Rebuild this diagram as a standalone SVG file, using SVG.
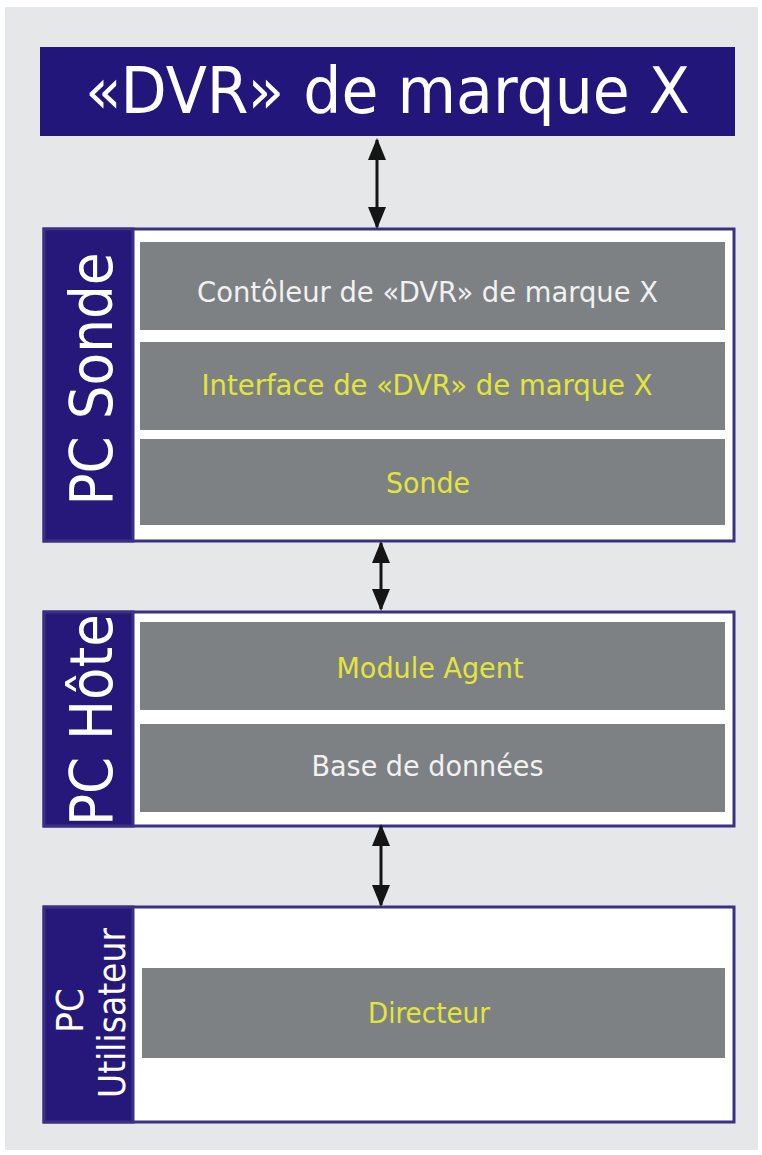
<svg xmlns="http://www.w3.org/2000/svg" width="762" height="1155" viewBox="0 0 762 1155">
  <style>
    .t { font-family: 'DejaVu Sans Condensed', 'DejaVu Sans', sans-serif; text-anchor: middle; }
    .frame { fill: #ffffff; stroke: #3b3182; stroke-width: 3; }
    .side { fill: #25187a; stroke: #3b3182; stroke-width: 3; }
    .cell { fill: #7e8184; }
    .w { fill: #f1f1f1; font-size: 29px; }
    .y { fill: #e2e63a; font-size: 29px; }
    .lab { fill: #ffffff; }
    .conn { stroke: #151515; stroke-width: 3; fill: none; marker-start: url(#ah); marker-end: url(#ah); }
  </style>
  <defs>
    <marker id="ah" markerUnits="userSpaceOnUse" markerWidth="22" markerHeight="20" refX="20" refY="10" orient="auto-start-reverse" viewBox="0 0 22 20">
      <path d="M0,1 L22,10 L0,19 Z" fill="#151515"/>
    </marker>
  </defs>

  <rect x="5" y="7" width="753" height="1143" fill="#e6e7e8"/>

  <g id="dvr">
    <rect x="40" y="47" width="695" height="89" fill="#23167a"/>
    <text class="t lab" x="387.5" y="113" font-size="64" textLength="605" lengthAdjust="spacingAndGlyphs">«DVR» de marque X</text>
  </g>

  <g id="pc-sonde">
    <rect class="frame" x="44" y="229" width="690" height="312"/>
    <rect class="side" x="44" y="229" width="89" height="312"/>
    <text class="t lab" transform="translate(112,379) rotate(-90)" font-size="59" textLength="253" lengthAdjust="spacingAndGlyphs">PC Sonde</text>
    <g id="controleur">
      <rect class="cell" x="140" y="242" width="585" height="88"/>
      <text class="t w" x="427.5" y="302" textLength="461" lengthAdjust="spacingAndGlyphs">Contôleur de «DVR» de marque X</text>
    </g>
    <g id="interface">
      <rect class="cell" x="140" y="342" width="585" height="88"/>
      <text class="t y" x="427" y="395" textLength="451" lengthAdjust="spacingAndGlyphs">Interface de «DVR» de marque X</text>
    </g>
    <g id="sonde">
      <rect class="cell" x="140" y="439" width="585" height="86"/>
      <text class="t y" x="428" y="493" textLength="84" lengthAdjust="spacingAndGlyphs">Sonde</text>
    </g>
  </g>

  <g id="pc-hote">
    <rect class="frame" x="44" y="612" width="690" height="214"/>
    <rect class="side" x="44" y="612" width="89" height="214"/>
    <text class="t lab" transform="translate(112,720) rotate(-90)" font-size="59" textLength="212" lengthAdjust="spacingAndGlyphs">PC Hôte</text>
    <g id="module-agent">
      <rect class="cell" x="140" y="622" width="585" height="88"/>
      <text class="t y" x="430" y="678" textLength="187" lengthAdjust="spacingAndGlyphs">Module Agent</text>
    </g>
    <g id="base-de-donnees">
      <rect class="cell" x="140" y="724" width="585" height="88"/>
      <text class="t w" x="427.5" y="776" textLength="232" lengthAdjust="spacingAndGlyphs">Base de données</text>
    </g>
  </g>

  <g id="pc-utilisateur">
    <rect class="frame" x="44" y="907" width="690" height="215"/>
    <rect class="side" x="44" y="907" width="89" height="215"/>
    <text class="t lab" transform="translate(83,1010.5) rotate(-90)" font-size="37" textLength="45" lengthAdjust="spacingAndGlyphs">PC</text>
    <text class="t lab" transform="translate(125,1013) rotate(-90)" font-size="37" textLength="170" lengthAdjust="spacingAndGlyphs">Utilisateur</text>
    <g id="directeur">
      <rect class="cell" x="142" y="968" width="583" height="90"/>
      <text class="t y" x="429" y="1023" textLength="122" lengthAdjust="spacingAndGlyphs">Directeur</text>
    </g>
  </g>

  <g id="connectors">
    <line class="conn" x1="377" y1="140" x2="377" y2="227"/>
    <line class="conn" x1="381" y1="543" x2="381" y2="609"/>
    <line class="conn" x1="381" y1="826" x2="381" y2="905"/>
  </g>
</svg>
